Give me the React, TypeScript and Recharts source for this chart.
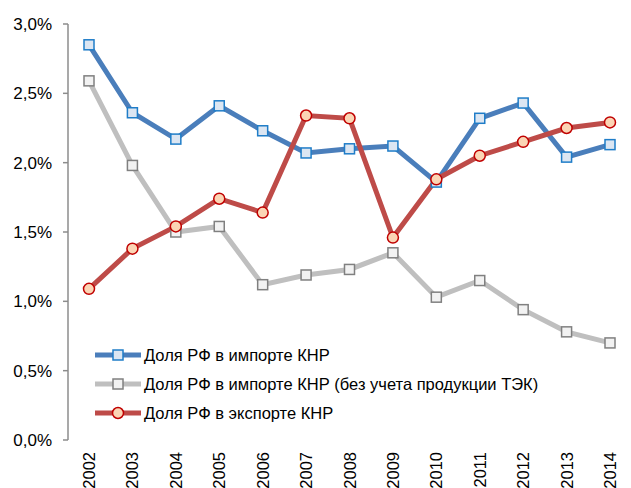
import React from 'react'
import { LineChart, Line, XAxis, YAxis, Legend } from 'recharts'

const years = ['2002', '2003', '2004', '2005', '2006', '2007', '2008', '2009', '2010', '2011', '2012', '2013', '2014']
const importShare = [2.85, 2.36, 2.17, 2.41, 2.23, 2.07, 2.1, 2.12, 1.86, 2.32, 2.43, 2.04, 2.13]
const importNoFuel = [2.59, 1.98, 1.5, 1.54, 1.12, 1.19, 1.23, 1.35, 1.03, 1.15, 0.94, 0.78, 0.7]
const exportShare = [1.09, 1.38, 1.54, 1.74, 1.64, 2.34, 2.32, 1.46, 1.88, 2.05, 2.15, 2.25, 2.29]
const yTicks = [0, 0.5, 1, 1.5, 2, 2.5, 3]
const boundaryTicks = years.map((_, i) => i).concat(years.length)

const data = years.map((year, i) => ({
  year,
  imp: importShare[i],
  impNoFuel: importNoFuel[i],
  exp: exportShare[i]
}))

const FONT = '"Liberation Sans", Arial, sans-serif'

const series = [
  { key: 'imp', name: 'Доля РФ в импорте КНР', stroke: '#4A7EBB', fill: '#DCE6F2', edge: '#1F7DC8', shape: 'square' },
  { key: 'impNoFuel', name: 'Доля РФ в импорте КНР (без учета продукции ТЭК)', stroke: '#BFBFBF', fill: '#F2F2F2', edge: '#808080', shape: 'square' },
  { key: 'exp', name: 'Доля РФ в экспорте КНР', stroke: '#BE4B48', fill: '#FBD5B5', edge: '#C00000', shape: 'circle' }
]

function marker(s: any, cx: number, cy: number, key?: any) {
  if (s.shape === 'circle') {
    return <circle key={key} cx={cx} cy={cy} r={5.5} fill={s.fill} stroke={s.edge} strokeWidth={1.5} />
  }
  return <rect key={key} x={cx - 5} y={cy - 5} width={10} height={10} fill={s.fill} stroke={s.edge} strokeWidth={1.5} />
}

function YearTick({ x, y, payload }: any) {
  return (
    <text
      transform={`translate(${x},${y + 3}) rotate(-90)`}
      textAnchor="end"
      dominantBaseline="central"
      fontFamily={FONT}
      fontSize={16.5}
      fill="#000"
    >
      {payload.value}
    </text>
  )
}

function LegendBox() {
  return (
    <svg width={520} height={90} style={{ display: 'block' }}>
      {series.map((s, i) => {
        const cy = 12 + i * 29
        return (
          <g key={s.key}>
            <line x1={2} x2={48} y1={cy} y2={cy} stroke={s.stroke} strokeWidth={5} />
            {marker(s, 25, cy)}
            <text x={51} y={cy} dominantBaseline="central" fontFamily={FONT} fontSize={16.5} fill="#000">
              {s.name}
            </text>
          </g>
        )
      })}
    </svg>
  )
}

export default function App() {
  return (
    <div style={{ position: 'absolute', left: 0, top: 0, background: '#fff' }}>
      <LineChart width={631} height={488} data={data} margin={{ top: 24, right: 0, left: 0, bottom: 0 }}>
        <XAxis
          xAxisId="bounds"
          type="number"
          domain={[0, years.length]}
          ticks={boundaryTicks}
          interval={0}
          allowDataOverflow
          height={0}
          tick={false}
          tickSize={5}
          stroke="#8c8c8c"
          strokeWidth={1.5}
          tickLine={{ stroke: '#8c8c8c' }}
        />
        <XAxis
          dataKey="year"
          height={48}
          interval={0}
          padding={{ left: 21, right: 21 }}
          tick={<YearTick />}
          tickSize={7}
          tickLine={false}
          axisLine={false}
        />
        <YAxis
          width={68}
          domain={[0, 3]}
          ticks={yTicks}
          interval={0}
          tickFormatter={(v: number) => v.toFixed(1).replace('.', ',') + '%'}
          tick={{ fontFamily: FONT, fontSize: 17, fill: '#000' }}
          tickSize={5}
          tickMargin={11}
          stroke="#8c8c8c"
          strokeWidth={1.5}
        />
        <Legend
          layout="vertical"
          verticalAlign="middle"
          align="center"
          wrapperStyle={{ left: 93, top: 343, width: 520, height: 90 }}
          content={<LegendBox />}
        />
        {series.map((s) => (
          <Line
            key={s.key}
            type="linear"
            dataKey={s.key}
            name={s.name}
            stroke={s.stroke}
            strokeWidth={5}
            isAnimationActive={false}
            dot={(p: any) => marker(s, p.cx, p.cy, `${s.key}-${p.index}`)}
            activeDot={false}
          />
        ))}
      </LineChart>
    </div>
  )
}
